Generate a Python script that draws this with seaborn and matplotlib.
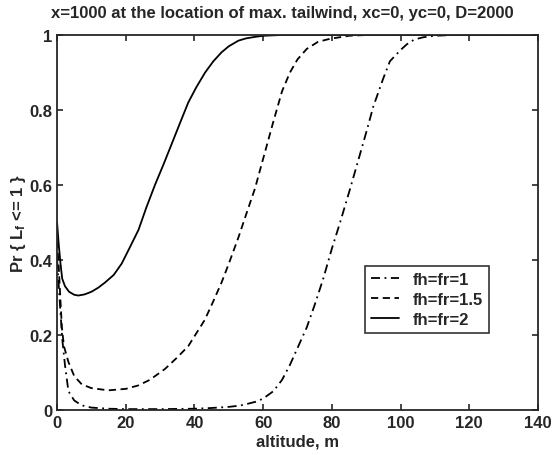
import pandas as pd
import seaborn as sns
import matplotlib
matplotlib.use("Agg")
import matplotlib.pyplot as plt

# values
alt_fh1 = [0, 0.5, 1, 1.5, 2.3, 3.3, 5, 7.2, 10, 15, 20, 30, 40, 45, 50, 53, 55, 58, 60,
           63, 65.5, 67.8, 70, 72.7, 75, 77.5, 80, 82.4, 85, 87.2, 90, 92.1, 95, 96.9,
           100, 101.8, 104, 106.6, 110, 115, 120, 130, 140]
pr_fh1 = [0.40, 0.33, 0.26, 0.19, 0.12, 0.05, 0.025, 0.012, 0.006, 0.003, 0.002, 0.002,
          0.003, 0.005, 0.008, 0.011, 0.015, 0.022, 0.03, 0.05, 0.08, 0.12, 0.165, 0.22,
          0.28, 0.35, 0.43, 0.50, 0.58, 0.65, 0.74, 0.81, 0.885, 0.93, 0.96, 0.975, 0.988,
          0.994, 0.998, 1.0, 1.0, 1.0, 1.0]

alt_fh15 = [0, 0.5, 1, 1.4, 2, 3.3, 5, 7.2, 10, 14.9, 20, 23.6, 27, 31.4, 35, 38.2, 43,
            45.5, 47.9, 50, 52.8, 55, 57.6, 60, 63, 65.5, 67.8, 70, 72.7, 76, 79.5, 85,
            90, 100, 120, 140]
pr_fh15 = [0.45, 0.38, 0.29, 0.22, 0.17, 0.128, 0.09, 0.068, 0.058, 0.052, 0.056, 0.065,
           0.08, 0.109, 0.14, 0.17, 0.24, 0.29, 0.34, 0.39, 0.46, 0.52, 0.59, 0.67, 0.77,
           0.85, 0.90, 0.935, 0.963, 0.982, 0.99, 0.998, 1.0, 1.0, 1.0, 1.0]

alt_fh2 = [0, 0.5, 1, 1.5, 2.3, 3.5, 5, 6.2, 8, 10, 12, 14, 16.5, 18.8, 21, 23.7, 26,
           28.5, 31, 33.4, 36, 38.2, 40.5, 43.1, 45.5, 47.9, 50, 52.8, 55, 57.6, 60, 65,
           70, 80, 100, 120, 140]
pr_fh2 = [0.50, 0.44, 0.39, 0.35, 0.33, 0.315, 0.307, 0.305, 0.308, 0.315, 0.326, 0.34,
          0.36, 0.39, 0.43, 0.48, 0.54, 0.60, 0.655, 0.71, 0.77, 0.82, 0.86, 0.90, 0.93,
          0.954, 0.97, 0.985, 0.991, 0.995, 0.998, 1.0, 1.0, 1.0, 1.0, 1.0, 1.0]

labels = ["fh=fr=1", "fh=fr=1.5", "fh=fr=2"]

df = pd.concat([
    pd.DataFrame({"altitude": alt_fh1, "pr": pr_fh1, "case": labels[0]}),
    pd.DataFrame({"altitude": alt_fh15, "pr": pr_fh15, "case": labels[1]}),
    pd.DataFrame({"altitude": alt_fh2, "pr": pr_fh2, "case": labels[2]}),
])

sns.set_style("ticks")
plt.rcParams['font.family'] = ['Liberation Sans', 'DejaVu Sans']
plt.rcParams['font.weight'] = 'bold'
plt.rcParams['mathtext.default'] = 'regular'

fig = plt.figure(figsize=(5.54, 4.56), dpi=100)
ax = fig.add_axes([0.103, 0.099, 0.868, 0.822])

sns.lineplot(data=df, x="altitude", y="pr", style="case", style_order=labels,
             dashes={labels[0]: (5, 2.5, 1, 2.5), labels[1]: (4, 2.5), labels[2]: ""},
             color="black", linewidth=1.3, ax=ax)

ax.set_xlim(0, 140)
ax.set_ylim(0, 1)
ax.set_xticks(range(0, 141, 20))
ax.set_yticks([0, 0.2, 0.4, 0.6, 0.8, 1])
ax.set_yticklabels(["0", "0.2", "0.4", "0.6", "0.8", "1"])
ax.tick_params(direction="in", top=True, right=True, labelsize=12, length=4, width=1.2)
for s in ax.spines.values():
    s.set_linewidth(1.3)

ax.set_xlabel("altitude, m", fontsize=12, fontweight="bold", labelpad=3)
ax.set_ylabel("Pr { L$_f$ <= 1 }", fontsize=12, fontweight="bold", labelpad=1)
ax.set_title("x=1000 at the location of max. tailwind, xc=0, yc=0, D=2000",
             fontsize=12, fontweight="bold", pad=13, x=0.468)

leg = ax.legend(loc="upper left", bbox_to_anchor=(0.64, 0.383),
                fontsize=12, frameon=True, fancybox=False, edgecolor="black",
                handlelength=1.7, borderpad=0.35, labelspacing=0.3, handletextpad=0.85,
                borderaxespad=0)
leg.get_frame().set_linewidth(1.2)
for t in leg.get_texts():
    t.set_fontweight("bold")

fig.savefig("out.png", dpi=100)
